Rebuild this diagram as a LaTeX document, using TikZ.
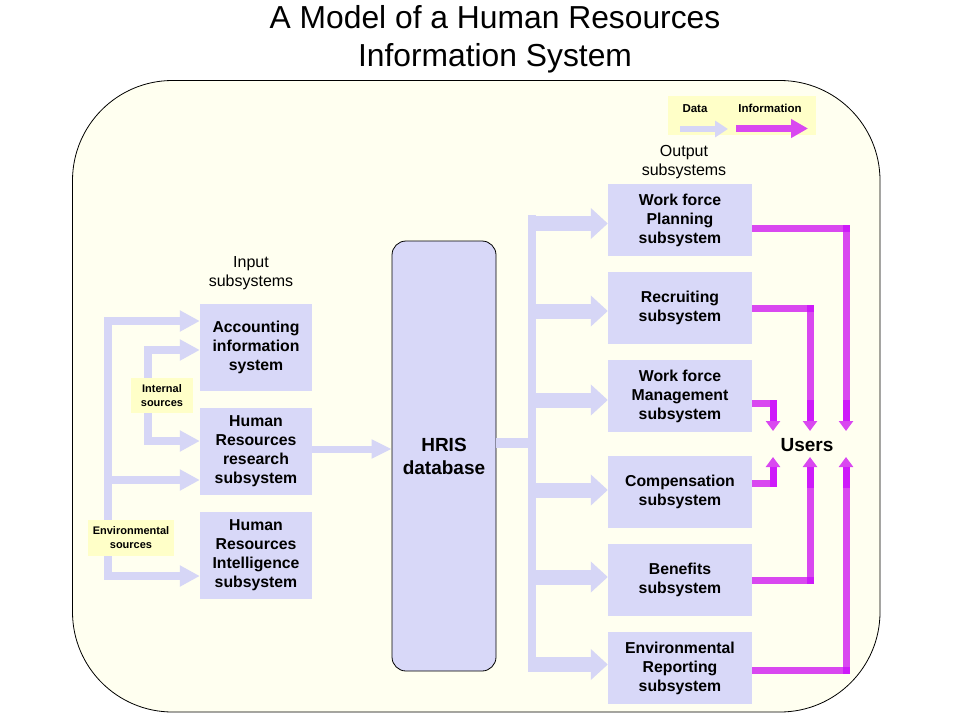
\documentclass[tikz,border=0pt]{standalone}
\usepackage{fontspec}
\setmainfont{Liberation Sans}
\usetikzlibrary{arrows.meta}
\definecolor{cream}{RGB}{255,255,240}
\definecolor{lav}{RGB}{216,216,248}
\definecolor{lavarrow}{RGB}{214,214,246}
\definecolor{lemon}{RGB}{255,255,200}
\definecolor{mag}{RGB}{217,72,240}
\definecolor{magdark}{RGB}{206,26,250}
\tikzset{
  box/.style={fill=lav, draw=none, inner sep=0pt, align=center,
    font=\bfseries\fontsize{15.8}{19}\selectfont},
  note/.style={fill=lemon, draw=none, inner sep=0pt, align=center,
    font=\bfseries\fontsize{11}{14}\selectfont},
  plain/.style={inner sep=0pt, align=center, font=\fontsize{16}{19}\selectfont},
  datal/.style={draw=lavarrow, line width=8pt},
  datatip/.style={datal, -{Triangle[width=20pt,length=20pt]}},
  datawide/.style={draw=lavarrow, line width=15pt, -{Triangle[width=30pt,length=17pt]}},
  info/.style={draw=mag, line width=7pt, line join=miter, -{Triangle[width=14pt,length=10pt]}},
}
\begin{document}
\begin{tikzpicture}[x=1pt,y=-1pt]
\useasboundingbox (0,0) rectangle (960,720);
\fill[white] (0,0) rectangle (960,720);
% title
\node[inner sep=0pt, anchor=base, font=\fontsize{31.8}{38}\selectfont] (t1) at (495,28) {A Model of a Human Resources};
\node[inner sep=0pt, anchor=base, font=\fontsize{31.8}{38}\selectfont] (t2) at (495,66) {Information System};
% frame
\draw[fill=cream, draw=black, line width=0.8pt, rounded corners=100pt] (72.5,80.5) rectangle (880,712);
% legend
\node[fill=lemon, minimum width=148pt, minimum height=39pt, inner sep=0pt] (legend) at (742,115.5) {};
\node[inner sep=0pt, font=\bfseries\fontsize{11.5}{14}\selectfont] (ldata) at (695,108.5) {Data};
\node[inner sep=0pt, font=\bfseries\fontsize{11.5}{14}\selectfont] (linfo) at (770,108.5) {Information};
\coordinate (ld1) at (680,129); \coordinate (ld2) at (728,129);
\coordinate (li1) at (736,128.5); \coordinate (li2) at (808,128.5);
\draw[draw=lavarrow, line width=6pt, -{Triangle[width=16pt,length=13pt]}] (ld1) -- (ld2);
\draw[draw=mag, line width=7pt, -{Triangle[width=18pt,length=17pt]}] (li1) -- (li2);
% labels
\node[plain] (inlab) at (251,273) {Input\\subsystems};
\node[plain] (outlab) at (684,162) {Output\\subsystems};
% input boxes
\node[box, minimum width=112pt, minimum height=87pt] (acc) at (256,347.5) {Accounting\\information\\system};
\node[box, minimum width=112pt, minimum height=87pt] (hrr) at (256,451.5) {Human\\Resources\\research\\subsystem};
\node[box, minimum width=112pt, minimum height=87pt] (hri) at (256,555.5) {Human\\Resources\\Intelligence\\subsystem};
% HRIS
\node[fill=lav, draw=black, line width=0.8pt, rounded corners=14pt, minimum width=104pt, minimum height=430pt,
  inner sep=0pt, align=center, font=\bfseries\fontsize{19}{23}\selectfont] (hris) at (444,456) {HRIS\\database};
% output boxes
\node[box, minimum width=144pt, minimum height=72pt] (wfp) at (680,220) {Work force\\Planning\\subsystem};
\node[box, minimum width=144pt, minimum height=72pt] (rec) at (680,308) {Recruiting\\subsystem};
\node[box, minimum width=144pt, minimum height=72pt] (wfm) at (680,396) {Work force\\Management\\subsystem};
\node[box, minimum width=144pt, minimum height=72pt] (comp) at (680,492) {Compensation\\subsystem};
\node[box, minimum width=144pt, minimum height=72pt] (ben) at (680,580) {Benefits\\subsystem};
\node[box, minimum width=144pt, minimum height=72pt] (envr) at (680,668) {Environmental\\Reporting\\subsystem};
% left data arrows
\coordinate (eT) at (108,321); \coordinate (eM) at (108,480); \coordinate (eB) at (108,576);
\coordinate (iT) at (148,350); \coordinate (iB) at (148,441);
\draw[datal, line cap=rect] (eT) -- (eB);
\draw[datal, line cap=rect] (iT) -- (iB);
\draw[datatip] (eT) -- (eT -| acc.west);
\draw[datatip] (eM) -- (eM -| hrr.west);
\draw[datatip] (eB) -- (eB -| hri.west);
\draw[datatip] (iT) -- (iT -| acc.west);
\draw[datatip] (iB) -- (iB -| hrr.west);
\draw[draw=lavarrow, line width=7pt, -{Triangle[width=18pt,length=20pt]}] (hrr.east |- 0,449) -- (hris.west |- 0,449);
% source notes
\node[note, minimum width=62pt, minimum height=35pt] (intsrc) at (162,395.5) {Internal\\sources};
\node[note, minimum width=86pt, minimum height=36pt] (envsrc) at (131,538) {Environmental\\sources};
% right data arrows
\coordinate (j) at (532,443);
\coordinate (tT) at (532,215); \coordinate (tB) at (532,672);
\draw[draw=lavarrow, line width=10pt] (hris.east |- j) -- (j);
\draw[draw=lavarrow, line width=8pt] (tT) -- (tB);
\coordinate (b1) at (528,223.5); \coordinate (b2) at (528,311);
\coordinate (b3) at (528,400); \coordinate (b4) at (528,490);
\coordinate (b5) at (528,577); \coordinate (b6) at (528,664.5);
\draw[datawide] (b1) -- (b1 -| wfp.west);
\draw[datawide] (b2) -- (b2 -| rec.west);
\draw[datawide] (b3) -- (b3 -| wfm.west);
\draw[datawide] (b4) -- (b4 -| comp.west);
\draw[datawide] (b5) -- (b5 -| ben.west);
\draw[datawide] (b6) -- (b6 -| envr.west);
% users
\node[inner sep=0pt, font=\bfseries\fontsize{19}{23}\selectfont] (users) at (807,445) {Users};
\coordinate (d1) at (773,431); \coordinate (d2) at (810,431); \coordinate (d3) at (846,431);
\coordinate (u1) at (773,457); \coordinate (u2) at (810,457); \coordinate (u3) at (846,457);
\draw[info] (wfp.east |- 0,228) -| (d3);
\draw[info] (rec.east |- 0,308) -| (d2);
\draw[info] (wfm.east |- 0,403.5) -| (d1);
\draw[info] (comp.east |- 0,483.5) -| (u1);
\draw[info] (ben.east |- 0,580) -| (u2);
\draw[info] (envr.east |- 0,670) -| (u3);
% darker overlaps
\fill[magdark] (842.5,224.5) rectangle (849.5,231.5);
\fill[magdark] (806.5,304.5) rectangle (813.5,311.5);
\fill[magdark] (769.5,400) rectangle (776.5,421);
\fill[magdark] (806.5,400) rectangle (813.5,421);
\fill[magdark] (842.5,400) rectangle (849.5,421);
\fill[magdark] (769.5,467) rectangle (776.5,487);
\fill[magdark] (806.5,467) rectangle (813.5,488);
\fill[magdark] (842.5,467) rectangle (849.5,488);
\fill[magdark] (806.5,576.5) rectangle (813.5,583.5);
\fill[magdark] (842.5,666.5) rectangle (849.5,673.5);
\end{tikzpicture}
\end{document}
